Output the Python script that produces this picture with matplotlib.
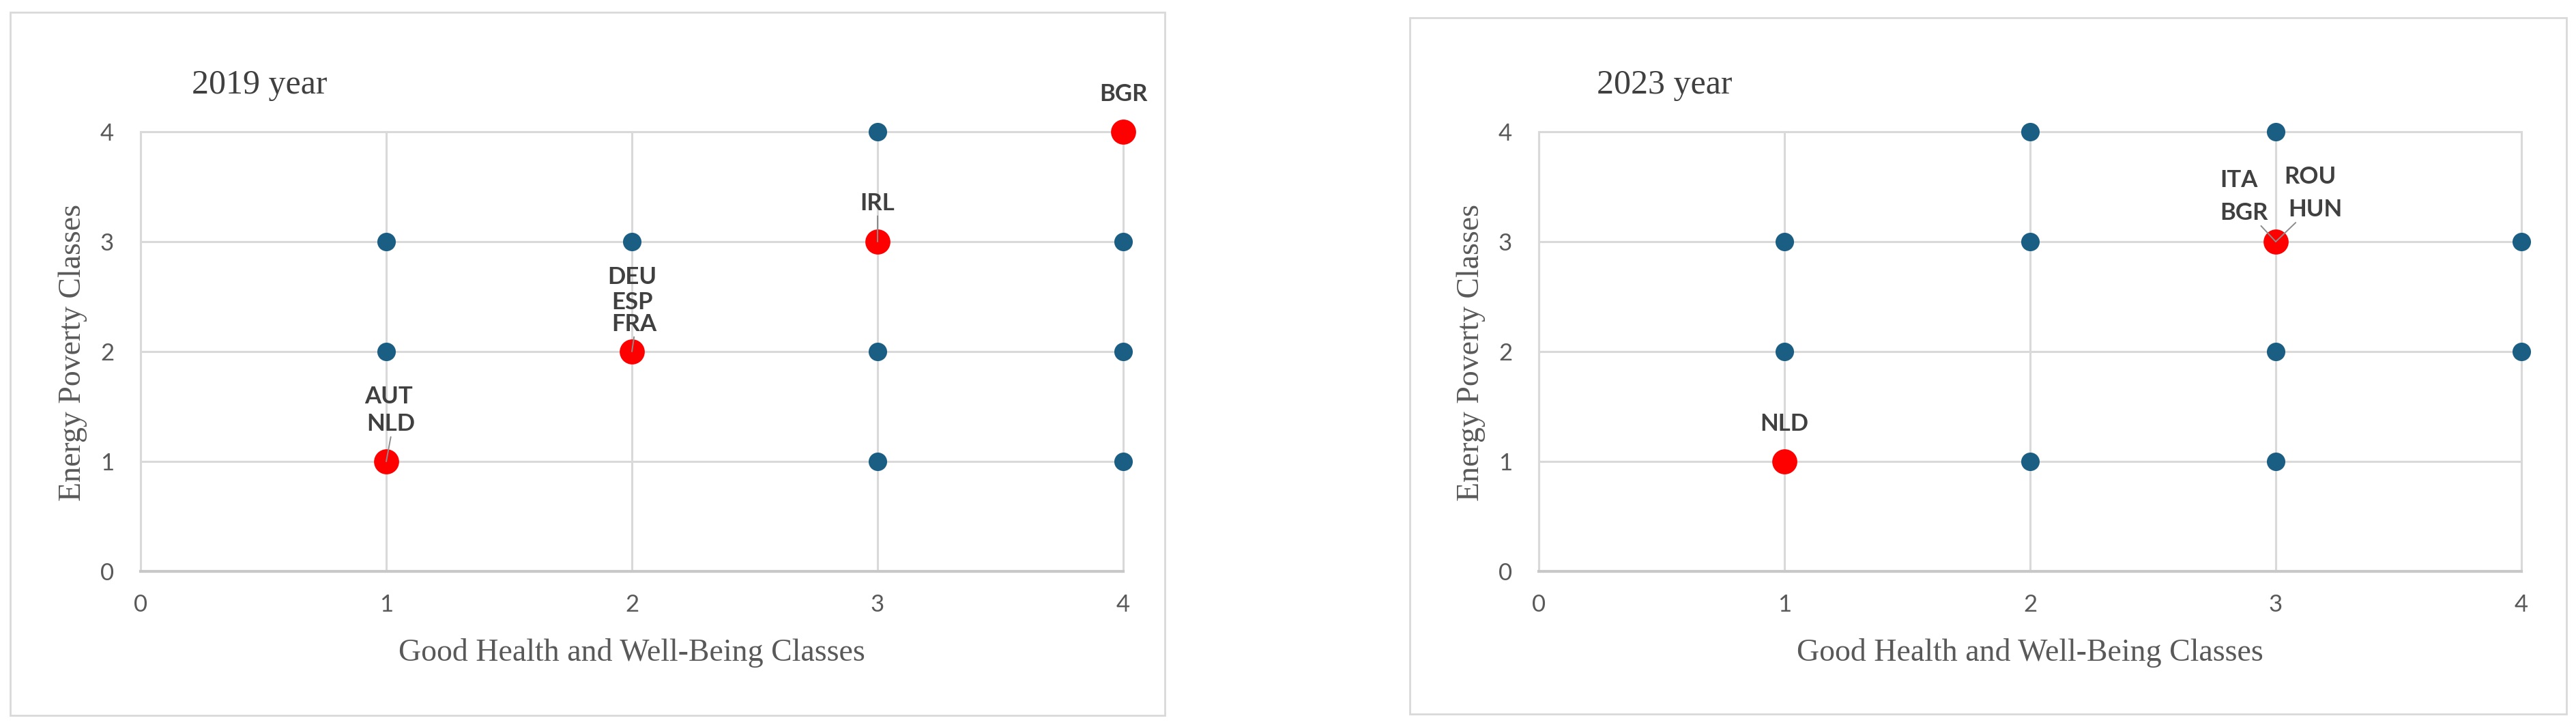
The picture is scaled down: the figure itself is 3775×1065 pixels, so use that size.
#!/usr/bin/env python3
"""
Energy poverty vs good health classes, 2019 and 2023
"""
import matplotlib.pyplot as plt
from matplotlib.patches import Rectangle

# Data
classes = [0, 1, 2, 3, 4]

# 2019
x19_other = [3, 1, 2, 4, 1, 3, 4, 3, 4]
y19_other = [4, 3, 3, 3, 2, 2, 2, 1, 1]
x19_hl = [4, 3, 2, 1]
y19_hl = [4, 3, 2, 1]
names19 = ["BGR", "IRL", "DEU", "ESP", "FRA", "AUT", "NLD"]
names19_x = [4, 3, 2, 2, 2, 1, 1]
names19_y = [4, 3, 2, 2, 2, 1, 1]

# 2023
x23_other = [2, 3, 1, 2, 4, 1, 3, 4, 2, 3]
y23_other = [4, 4, 3, 3, 3, 2, 2, 2, 1, 1]
x23_hl = [1, 3]
y23_hl = [1, 3]
names23 = ["NLD", "ITA", "BGR", "ROU", "HUN"]
names23_x = [1, 3, 3, 3, 3]
names23_y = [1, 3, 3, 3, 3]

# Label placement (layout only)
pos19 = {"BGR": (4.0, 4.34), "IRL": (3.0, 3.35), "DEU": (2.0, 2.675),
         "ESP": (2.0, 2.45), "FRA": (2.01, 2.25), "AUT": (1.01, 1.59),
         "NLD": (1.02, 1.34)}
lead19 = {"IRL": (0.5, 0), "FRA": (0.5, 0), "NLD": (0.5, 0)}
pos23 = {"NLD": (1.0, 1.34), "ITA": (2.85, 3.56), "BGR": (2.87, 3.26),
         "ROU": (3.14, 3.59), "HUN": (3.16, 3.29)}
lead23 = {"BGR": (0.8, 0.05), "HUN": (0.2, 0.05)}

BLUE = '#1B5E84'
RED = '#FF0000'
GRID = '#D9D9D9'
TXT = '#595959'


def draw_panel(ax, bx, by, rx, ry, names, nx, ny, pos, leads):
    ax.set_xlim(0, 4)
    ax.set_ylim(0, 4)
    ax.set_xticks(classes)
    ax.set_yticks(classes)
    ax.grid(True, color=GRID, linewidth=2.2)
    ax.set_axisbelow(True)
    for line in ax.get_xgridlines() + ax.get_ygridlines():
        line.set_clip_on(False)
    for s in ['top', 'right', 'left']:
        ax.spines[s].set_visible(False)
    ax.spines['bottom'].set_color('#C8C8C8')
    ax.spines['bottom'].set_linewidth(3)
    ax.tick_params(length=0, labelsize=25, labelcolor=TXT)
    ax.tick_params(axis='y', pad=28)
    ax.tick_params(axis='x', pad=24)
    for lab in ax.get_xticklabels() + ax.get_yticklabels():
        lab.set_family('Lato')

    ax.scatter(bx, by, s=380, color=BLUE, linewidths=0, zorder=3, clip_on=False)
    ax.scatter(rx, ry, s=700, color=RED, linewidths=0, zorder=4, clip_on=False)

    for name, x, y in zip(names, nx, ny):
        tx, ty = pos[name]
        kw = dict(ha='center', va='center', fontsize=25, fontweight='bold',
                  family='Lato', color='#404040', zorder=6)
        if name in leads:
            ax.annotate(name, xy=(x, y), xytext=(tx, ty),
                        arrowprops=dict(arrowstyle='-', color='#8C8C8C', lw=1.4,
                                        shrinkA=0, shrinkB=0, relpos=leads[name]),
                        **kw)
        else:
            ax.text(tx, ty, name, **kw)

    ax.set_xlabel('Good Health and Well-Being Classes', family='Liberation Serif',
                  fontsize=33, color=TXT)
    ax.xaxis.set_label_coords(0.5, -0.186)
    ax.xaxis.label.set_va('center')
    ax.set_ylabel('Energy Poverty Classes', family='Liberation Serif',
                  fontsize=33, color=TXT)
    ax.yaxis.set_label_coords(-0.0688, 0.497)
    ax.yaxis.label.set_va('center')


fig = plt.figure(figsize=(37.75, 10.65), dpi=100)

# panel frames
fig.patches.append(Rectangle((0.004, 0.016), 0.4482, 0.967, transform=fig.transFigure,
                             fill=False, edgecolor='#D9D9D9', linewidth=2))
fig.patches.append(Rectangle((0.5473, 0.0178), 0.449, 0.9577, transform=fig.transFigure,
                             fill=False, edgecolor='#D9D9D9', linewidth=2))

ax1 = fig.add_axes([0.05457, 0.21408, 0.38146, 0.6047])
ax2 = fig.add_axes([0.59735, 0.21408, 0.38146, 0.6047])

draw_panel(ax1, x19_other, y19_other, x19_hl, y19_hl, names19, names19_x, names19_y, pos19, lead19)
draw_panel(ax2, x23_other, y23_other, x23_hl, y23_hl, names23, names23_x, names23_y, pos23, lead23)

fig.text(0.0744, 0.871, '2019 year', family='Liberation Serif', fontsize=36,
         color='#404040', va='baseline')
fig.text(0.620, 0.871, '2023 year', family='Liberation Serif', fontsize=36,
         color='#404040', va='baseline')

plt.savefig('out.png', dpi=100)
